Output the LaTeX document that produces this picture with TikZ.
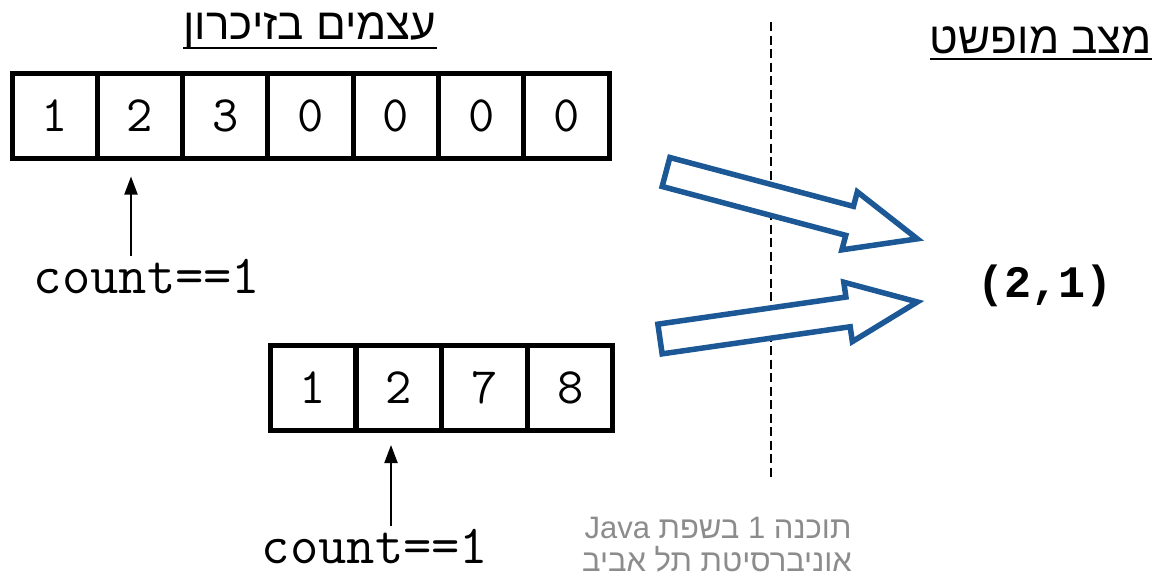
\documentclass[tikz,border=0pt]{standalone}
\usepackage{fontspec}
\setmainfont{Liberation Sans}
\newfontfamily\hebfont[Script=Hebrew]{Liberation Sans}
\newfontfamily\courbold{Liberation Mono}
\TeXXeTstate=1
\usetikzlibrary{arrows.meta}
\definecolor{arrblue}{RGB}{28,88,150}
\definecolor{footgray}{RGB}{140,140,140}
\tikzset{
  cell/.style={draw, line width=5pt, minimum width=85.3pt, minimum height=85pt, inner sep=0pt, outer sep=0pt, font=\ttfamily\fontsize{51}{51}\selectfont},
  title/.style={anchor=base, inner sep=0pt, font=\hebfont\fontsize{44}{48}\selectfont},
  uline/.style={line width=2.5pt},
  countlbl/.style={anchor=base, inner sep=0pt, font=\ttfamily\fontsize{55}{55}\selectfont},
  ptr/.style={line width=2pt, -{Triangle[length=18pt,width=13pt]}},
  blockarrow/.style={draw=arrblue, line width=5.5pt, fill=white, line join=miter},
  foot/.style={anchor=base, inner sep=0pt, text=footgray, font=\hebfont\fontsize{31}{34}\selectfont},
  divider/.style={line width=1.8pt, dash pattern=on 9pt off 4.5pt}
}
\begin{document}
\begin{tikzpicture}[x=1pt,y=-1pt]
\useasboundingbox (0,0) rectangle (1154,576);

% titles
\node[title] (t1) at (310,39) {\beginR עצמים בזיכרון\endR};
\draw[uline] ([yshift=-9pt]t1.base west) -- ([yshift=-9pt]t1.base east);
\node[title] (t2) at (1041,53) {\beginR מצב מופשט\endR};
\draw[uline] ([yshift=-6pt]t2.base west) -- ([yshift=-6pt]t2.base east);

% top array
\foreach \v [count=\i] in {1,2,3,0,0,0,0} {
  \node[cell] (a\i) at ({12+42.65+85.3*(\i-1)},116) {\v};
}
% bottom array
\foreach \v [count=\i] in {1,2,7,8} {
  \node[cell] (b\i) at ({270+42.9+85.75*(\i-1)},387.5) {\v};
}

% count labels and pointers
\node[countlbl] (c1) at (147,293) {count==1};
\node[countlbl] (c2) at (375,563) {count==1};
\coordinate (p1) at (131,0);
\coordinate (p2) at (391,0);
\draw[ptr] ([yshift=3pt]c1.north -| p1) -- ([yshift=-18pt]a2.south -| p1);
\draw[ptr] ([yshift=3pt]c2.north -| p2) -- ([yshift=-15pt]b2.south -| p2);

% dashed separator
\coordinate (d1) at (771,22);
\coordinate (d2) at (771,478);
\draw[divider] (d1) -- (d2);

% abstract state
\node[anchor=base, inner sep=0pt, font=\courbold\bfseries\fontsize{45}{45}\selectfont] (st) at (1045,297) {(2,1)};

% block arrows
\begin{scope}[shift={(666,172)}, rotate=-14.9]
  \draw[blockarrow] (0,-15) -- (190,-15) -- (190,-30) -- (260,0) -- (190,30) -- (190,15) -- (0,15) -- cycle;
\end{scope}
\begin{scope}[shift={(660,339)}, rotate=8.2]
  \draw[blockarrow] (0,-15) -- (190,-15) -- (190,-30) -- (260,0) -- (190,30) -- (190,15) -- (0,15) -- cycle;
\end{scope}

% footer
\node[foot] (f1) at (718,538) {\beginR תוכנה 1 בשפת \beginL Java\endL\endR};
\node[foot] (f2) at (717,571) {\beginR אוניברסיטת תל אביב\endR};
\end{tikzpicture}
\end{document}
